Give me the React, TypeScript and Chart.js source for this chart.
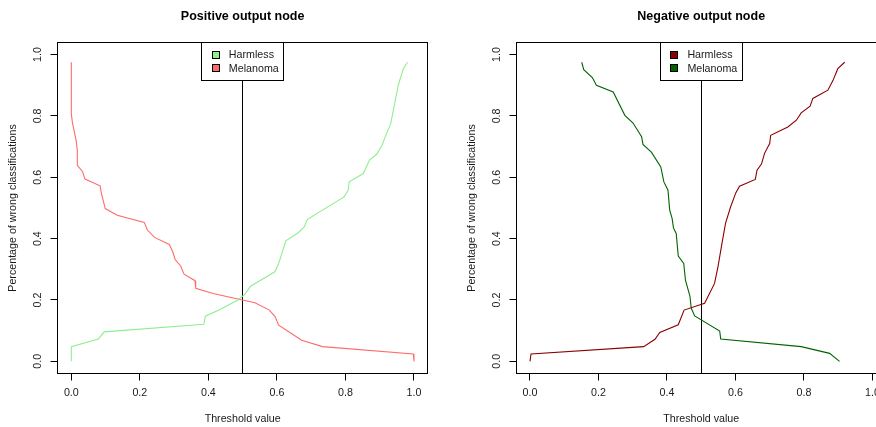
import React, { useEffect, useRef } from "react";
import { Chart, registerables } from "chart.js";

Chart.register(...registerables);

// ---- data ----
const TICK_VALUES = [0, 0.2, 0.4, 0.6, 0.8, 1.0];
const TICK_LABELS = ["0.0", "0.2", "0.4", "0.6", "0.8", "1.0"];
const LEGEND_LABELS = ["Harmless", "Melanoma"];
const TITLE_POS = "Positive output node";
const TITLE_NEG = "Negative output node";
const X_TITLE = "Threshold value";
const Y_TITLE = "Percentage of wrong classifications";
const THRESHOLD = 0.5;

// Positive output node
const posMelanomaX = [0, 0, 0.003, 0.014, 0.0175, 0.0175, 0.033, 0.04, 0.084, 0.088, 0.093, 0.099, 0.134, 0.213, 0.222, 0.243, 0.286, 0.296, 0.303, 0.319, 0.329, 0.361, 0.363, 0.414, 0.499, 0.536, 0.578, 0.595, 0.605, 0.638, 0.672, 0.733, 0.998, 1.0];
const posMelanomaY = [0.975, 0.808, 0.78, 0.72, 0.688, 0.639, 0.618, 0.594, 0.572, 0.547, 0.525, 0.498, 0.476, 0.453, 0.428, 0.404, 0.381, 0.357, 0.332, 0.311, 0.284, 0.263, 0.238, 0.221, 0.2, 0.191, 0.167, 0.145, 0.118, 0.094, 0.069, 0.048, 0.024, 0];
const posHarmlessX = [0, 0, 0.079, 0.096, 0.387, 0.391, 0.434, 0.486, 0.507, 0.523, 0.594, 0.605, 0.612, 0.626, 0.663, 0.68, 0.689, 0.796, 0.808, 0.811, 0.852, 0.87, 0.891, 0.907, 0.92, 0.932, 0.94, 0.954, 0.969, 0.981];
const posHarmlessY = [0, 0.048, 0.073, 0.096, 0.121, 0.147, 0.169, 0.2, 0.219, 0.245, 0.292, 0.319, 0.343, 0.393, 0.42, 0.439, 0.463, 0.536, 0.558, 0.585, 0.612, 0.656, 0.675, 0.705, 0.743, 0.775, 0.819, 0.9, 0.954, 0.975];

// Negative output node
const negMelanomaX = [0.151, 0.157, 0.182, 0.194, 0.243, 0.277, 0.301, 0.326, 0.33, 0.355, 0.382, 0.391, 0.403, 0.408, 0.415, 0.419, 0.427, 0.433, 0.449, 0.454, 0.467, 0.471, 0.481, 0.554, 0.557, 0.792, 0.875, 0.904];
const negMelanomaY = [0.975, 0.951, 0.925, 0.9, 0.878, 0.802, 0.777, 0.732, 0.707, 0.681, 0.634, 0.585, 0.558, 0.493, 0.466, 0.435, 0.417, 0.343, 0.319, 0.265, 0.213, 0.173, 0.148, 0.099, 0.073, 0.048, 0.026, 0];
const negHarmlessX = [0, 0.003, 0.332, 0.365, 0.379, 0.433, 0.45, 0.51, 0.539, 0.549, 0.559, 0.571, 0.586, 0.601, 0.612, 0.658, 0.663, 0.676, 0.685, 0.7, 0.703, 0.753, 0.778, 0.792, 0.818, 0.826, 0.87, 0.885, 0.899, 0.919];
const negHarmlessY = [0, 0.024, 0.048, 0.072, 0.094, 0.119, 0.167, 0.189, 0.254, 0.308, 0.374, 0.45, 0.504, 0.549, 0.571, 0.593, 0.623, 0.643, 0.678, 0.71, 0.737, 0.764, 0.786, 0.81, 0.832, 0.857, 0.884, 0.916, 0.954, 0.975];

const toPoints = (xs: number[], ys: number[]) => xs.map((x, i) => ({ x, y: ys[i] }));

const FONT = "'Liberation Sans', Arial, Helvetica, sans-serif";
const TEXT = "#1a1a1a";

const rPlugin = {
  id: "rstyle",
  beforeDatasetsDraw(chart: any, _args: any, opts: any) {
    const { ctx, chartArea: a, scales } = chart;
    const px = Math.floor(scales.x.getPixelForValue(opts.threshold)) + 0.5;
    ctx.save();
    ctx.strokeStyle = "#000";
    ctx.lineWidth = 1;
    ctx.beginPath();
    ctx.moveTo(px, a.top);
    ctx.lineTo(px, a.bottom);
    ctx.stroke();
    ctx.restore();
  },
  afterDatasetsDraw(chart: any, _args: any, opts: any) {
    const { ctx, chartArea: a, scales } = chart;
    const xs = scales.x;
    const ys = scales.y;
    const L = Math.floor(a.left) + 0.5;
    const R = Math.floor(a.right) + 0.5;
    const T = Math.floor(a.top) + 0.5;
    const B = Math.floor(a.bottom) + 0.5;
    const cx = (a.left + a.right) / 2;
    const cy = (a.top + a.bottom) / 2;
    ctx.save();

    // legend
    const lw = 81.6, lh = 38.4;
    const lx = cx - lw / 2;
    const lxs = Math.floor(lx) + 0.5;
    ctx.fillStyle = "#fff";
    ctx.fillRect(lxs, T, Math.round(lw), Math.round(lh));
    ctx.strokeStyle = "#000";
    ctx.lineWidth = 1;
    ctx.strokeRect(lxs, T, Math.round(lw), Math.round(lh));
    ctx.font = `10.7px ${FONT}`;
    ctx.textBaseline = "middle";
    ctx.textAlign = "left";
    const rows = [12.7, 26];
    opts.legendLabels.forEach((lab: string, i: number) => {
      const ry = a.top + rows[i];
      const sx = Math.floor(lx + 10.3) + 0.5;
      const sy = Math.floor(ry - 3.5) + 0.5;
      ctx.fillStyle = opts.legendColors[i];
      ctx.fillRect(sx, sy, 7, 7);
      ctx.strokeStyle = "#000";
      ctx.strokeRect(sx, sy, 7, 7);
      ctx.fillStyle = TEXT;
      ctx.fillText(lab, lx + 27, ry + 0.5);
    });

    // box
    ctx.strokeStyle = "#000";
    ctx.lineWidth = 1;
    ctx.strokeRect(L, T, R - L, B - T);

    // x axis
    ctx.beginPath();
    const x0 = Math.floor(xs.getPixelForValue(opts.ticks[0])) + 0.5;
    const x1 = Math.floor(xs.getPixelForValue(opts.ticks[opts.ticks.length - 1])) + 0.5;
    ctx.moveTo(x0, B);
    ctx.lineTo(x1, B);
    opts.ticks.forEach((v: number) => {
      const p = Math.floor(xs.getPixelForValue(v)) + 0.5;
      ctx.moveTo(p, B);
      ctx.lineTo(p, B + 7);
    });
    // y axis
    const y0 = Math.floor(ys.getPixelForValue(opts.ticks[0])) + 0.5;
    const y1 = Math.floor(ys.getPixelForValue(opts.ticks[opts.ticks.length - 1])) + 0.5;
    ctx.moveTo(L, y0);
    ctx.lineTo(L, y1);
    opts.ticks.forEach((v: number) => {
      const p = Math.floor(ys.getPixelForValue(v)) + 0.5;
      ctx.moveTo(L, p);
      ctx.lineTo(L - 7, p);
    });
    ctx.stroke();

    // tick labels
    ctx.fillStyle = TEXT;
    ctx.font = `10.7px ${FONT}`;
    ctx.textAlign = "center";
    ctx.textBaseline = "middle";
    opts.ticks.forEach((v: number, i: number) => {
      ctx.fillText(opts.tickLabels[i], xs.getPixelForValue(v), a.bottom + 19.8);
    });
    opts.ticks.forEach((v: number, i: number) => {
      ctx.save();
      ctx.translate(a.left - 19.3, ys.getPixelForValue(v));
      ctx.rotate(-Math.PI / 2);
      ctx.fillText(opts.tickLabels[i], 0, 0);
      ctx.restore();
    });

    // axis titles
    ctx.fillText(opts.xTitle, cx, 419);
    ctx.save();
    ctx.translate(a.left - 44.7, cy);
    ctx.rotate(-Math.PI / 2);
    ctx.fillText(opts.yTitle, 0, 0);
    ctx.restore();

    // main title
    ctx.font = `bold 12.5px ${FONT}`;
    ctx.fillStyle = "#000";
    ctx.fillText(opts.title, cx, 17);

    ctx.restore();
  },
};

type PanelProps = {
  width: number;
  left: number;
  padLeft: number;
  padRight: number;
  title: string;
  harmless: { x: number; y: number }[];
  melanoma: { x: number; y: number }[];
  colors: string[];
};

function Panel(props: PanelProps) {
  const ref = useRef<HTMLCanvasElement | null>(null);
  useEffect(() => {
    if (!ref.current) return;
    const chart = new Chart(ref.current, {
      type: "line",
      data: {
        datasets: [
          {
            label: LEGEND_LABELS[0],
            data: props.harmless,
            borderColor: props.colors[0],
            borderWidth: 1.1,
            pointRadius: 0,
            tension: 0,
            fill: false,
          },
          {
            label: LEGEND_LABELS[1],
            data: props.melanoma,
            borderColor: props.colors[1],
            borderWidth: 1.1,
            pointRadius: 0,
            tension: 0,
            fill: false,
          },
        ],
      },
      options: {
        animation: false,
        responsive: false,
        devicePixelRatio: 1,
        parsing: true,
        layout: {
          padding: { left: props.padLeft, right: props.padRight, top: 42.3, bottom: 427 - 373.6 },
        },
        scales: {
          x: { type: "linear", min: -0.04, max: 1.04, display: false },
          y: { type: "linear", min: -0.04, max: 1.04, display: false },
        },
        plugins: {
          legend: { display: false },
          tooltip: { enabled: false },
          title: { display: false },
          rstyle: {
            threshold: THRESHOLD,
            ticks: TICK_VALUES,
            tickLabels: TICK_LABELS,
            legendLabels: LEGEND_LABELS,
            legendColors: props.colors,
            title: props.title,
            xTitle: X_TITLE,
            yTitle: Y_TITLE,
          },
        } as any,
      },
      plugins: [rPlugin as any],
    });
    return () => chart.destroy();
  }, []);
  return (
    <canvas
      ref={ref}
      width={props.width}
      height={427}
      style={{ position: "absolute", left: props.left, top: 0, width: props.width, height: 427 }}
    />
  );
}

export default function App() {
  return (
    <div
      style={{
        position: "absolute",
        left: 0,
        top: 0,
        width: 876,
        height: 427,
        overflow: "hidden",
        background: "#fff",
      }}
    >
      <Panel
        width={438}
        left={0}
        padLeft={57.6}
        padRight={438 - 427.7}
        title={TITLE_POS}
        harmless={toPoints(posHarmlessX, posHarmlessY)}
        melanoma={toPoints(posMelanomaX, posMelanomaY)}
        colors={["#90EE90", "#FF6A6A"]}
      />
      <Panel
        width={460}
        left={438}
        padLeft={78.3}
        padRight={460 - 448.1}
        title={TITLE_NEG}
        harmless={toPoints(negHarmlessX, negHarmlessY)}
        melanoma={toPoints(negMelanomaX, negMelanomaY)}
        colors={["#8B0000", "#006400"]}
      />
    </div>
  );
}
